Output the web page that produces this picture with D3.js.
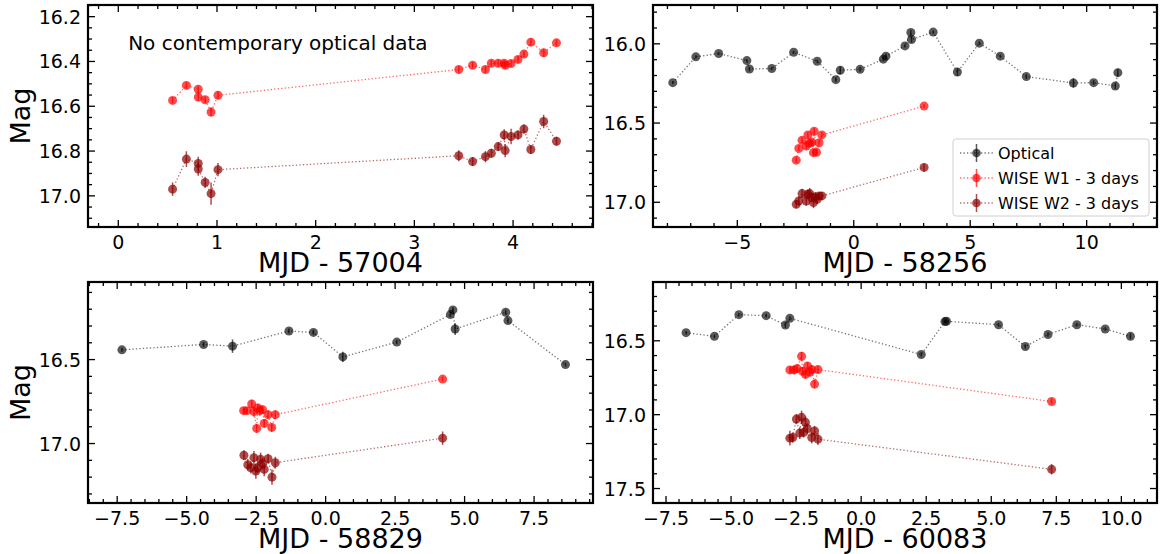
<!DOCTYPE html>
<html lang="en">
<head>
<meta charset="utf-8">
<title>WISE light curves</title>
<style>
  body { margin: 0; background: #fff; }
  svg { font-family: "DejaVu Sans", sans-serif; }
  .tick-label { font-size: 19px; fill: #000; }
  .axis-title { font-size: 27px; fill: #000; }
</style>
</head>
<body>
<div id="wrapper"></div>
<script src="https://cdn.jsdelivr.net/npm/d3@7"></script>
<script>
// ---- data: MJD offsets, magnitudes, errors ----
// panel 1: MJD - 57004
const p1W1t = [0.55, 0.69, 0.81, 0.81, 0.88, 0.94, 1.01, 3.45, 3.59, 3.72, 3.78, 3.85, 3.91, 3.92, 3.98, 4.05, 4.11, 4.18, 4.31, 4.44]
const p1W1m = [16.574, 16.507, 16.524, 16.559, 16.571, 16.626, 16.551, 16.436, 16.417, 16.436, 16.408, 16.408, 16.408, 16.417, 16.409, 16.391, 16.367, 16.314, 16.361, 16.317]
const p1W1e = [0.015, 0.015, 0.016, 0.018, 0.015, 0.02, 0.018, 0.016, 0.015, 0.016, 0.015, 0.016, 0.015, 0.016, 0.015, 0.015, 0.015, 0.016, 0.018, 0.015]
const p1W2t = p1W1t
const p1W2m = [16.970, 16.836, 16.855, 16.880, 16.940, 16.990, 16.883, 16.821, 16.847, 16.825, 16.810, 16.780, 16.728, 16.798, 16.735, 16.728, 16.702, 16.793, 16.668, 16.756]
const p1W2e = [0.03, 0.035, 0.03, 0.03, 0.025, 0.05, 0.03, 0.025, 0.02, 0.025, 0.02, 0.02, 0.025, 0.03, 0.035, 0.02, 0.02, 0.02, 0.03, 0.02]

// panel 2: MJD - 58256
const p2Ot = [-7.77, -6.78, -5.80, -4.59, -4.48, -3.52, -2.58, -1.57, -0.77, -0.58, 0.27, 1.27, 1.38, 2.20, 2.45, 2.48, 3.41, 4.45, 5.39, 6.29, 7.41, 9.43, 10.30, 11.23, 11.34]
const p2Om = [16.245, 16.082, 16.061, 16.106, 16.159, 16.156, 16.053, 16.110, 16.226, 16.167, 16.161, 16.097, 16.078, 16.013, 15.928, 15.973, 15.926, 16.178, 15.996, 16.078, 16.207, 16.247, 16.245, 16.266, 16.182]
const p2Oe = [0.01, 0.01, 0.01, 0.01, 0.015, 0.01, 0.01, 0.01, 0.015, 0.025, 0.015, 0.015, 0.015, 0.01, 0.015, 0.02, 0.01, 0.025, 0.01, 0.01, 0.015, 0.03, 0.015, 0.02, 0.025]
const p2W1t = [-2.47, -2.36, -2.22, -2.04, -1.97, -1.89, -1.81, -1.73, -1.70, -1.60, -1.49, -1.37, 3.02]
const p2W1m = [16.734, 16.660, 16.609, 16.645, 16.575, 16.628, 16.620, 16.687, 16.552, 16.685, 16.624, 16.575, 16.393]
const p2W1e = [0.018, 0.018, 0.02, 0.02, 0.018, 0.02, 0.018, 0.02, 0.02, 0.02, 0.018, 0.018, 0.012]
const p2W2t = [-2.47, -2.36, -2.22, -2.04, -1.97, -1.89, -1.81, -1.73, -1.65, -1.57, -1.49, -1.37, 3.02]
const p2W2m = [17.013, 16.992, 16.945, 16.992, 16.949, 16.945, 16.970, 17.002, 16.966, 16.981, 16.960, 16.960, 16.780]
const p2W2e = [0.025, 0.03, 0.03, 0.03, 0.03, 0.035, 0.03, 0.035, 0.03, 0.03, 0.025, 0.025, 0.025]

// panel 3: MJD - 58829
const p3Ot = [-7.33, -4.39, -3.35, -1.32, -0.44, 0.62, 2.56, 4.49, 4.58, 4.66, 6.48, 6.56, 8.63]
const p3Om = [16.442, 16.410, 16.420, 16.330, 16.338, 16.484, 16.396, 16.232, 16.204, 16.318, 16.218, 16.268, 16.530]
const p3Oe = [0.012, 0.015, 0.04, 0.015, 0.015, 0.03, 0.012, 0.015, 0.015, 0.035, 0.015, 0.015, 0.012]
const p3W1t = [-2.95, -2.83, -2.66, -2.58, -2.48, -2.44, -2.37, -2.27, -2.21, -2.07, -1.94, -1.81, 4.21]
const p3W1m = [16.804, 16.804, 16.764, 16.810, 16.910, 16.788, 16.804, 16.798, 16.880, 16.828, 16.904, 16.828, 16.616]
const p3W1e = [0.02, 0.02, 0.025, 0.03, 0.025, 0.025, 0.03, 0.025, 0.025, 0.025, 0.025, 0.025, 0.015]
const p3W2t = [-2.94, -2.80, -2.69, -2.58, -2.51, -2.45, -2.34, -2.27, -2.21, -2.07, -1.93, -1.81, 4.21]
const p3W2m = [17.070, 17.126, 17.144, 17.084, 17.164, 17.144, 17.094, 17.120, 17.154, 17.090, 17.200, 17.114, 16.968]
const p3W2e = [0.03, 0.035, 0.035, 0.04, 0.045, 0.035, 0.04, 0.035, 0.04, 0.03, 0.045, 0.035, 0.04]

// panel 4: MJD - 60083
const p4Ot = [-6.73, -5.64, -4.70, -3.65, -2.91, -2.74, 2.31, 3.22, 3.28, 5.28, 6.31, 7.18, 8.29, 9.38, 10.35]
const p4Om = [16.445, 16.470, 16.323, 16.330, 16.393, 16.348, 16.593, 16.370, 16.368, 16.391, 16.539, 16.457, 16.391, 16.420, 16.470]
const p4Oe = [0.012, 0.012, 0.012, 0.012, 0.02, 0.015, 0.015, 0.012, 0.012, 0.012, 0.015, 0.015, 0.012, 0.012, 0.02]
const p4W1t = [-2.74, -2.58, -2.46, -2.29, -2.25, -2.14, -2.06, -1.97, -1.89, -1.79, -1.66, 7.32]
const p4W1m = [16.697, 16.697, 16.688, 16.605, 16.706, 16.727, 16.670, 16.711, 16.695, 16.793, 16.695, 16.911]
const p4W1e = [0.025, 0.03, 0.025, 0.03, 0.025, 0.03, 0.025, 0.03, 0.025, 0.03, 0.025, 0.02]
const p4W2t = [-2.74, -2.63, -2.49, -2.36, -2.29, -2.21, -2.14, -2.07, -1.90, -1.79, -1.66, 7.32]
const p4W2m = [17.159, 17.155, 17.030, 17.125, 17.018, 17.120, 17.052, 17.093, 17.155, 17.111, 17.166, 17.370]
const p4W2e = [0.05, 0.035, 0.035, 0.04, 0.045, 0.035, 0.04, 0.035, 0.04, 0.035, 0.04, 0.035]

const xTitles = ["MJD - 57004", "MJD - 58256", "MJD - 58829", "MJD - 60083"]
const legendLabels = ["Optical", "WISE W1 - 3 days", "WISE W2 - 3 days"]

const colOptical = "#000000"
const colW1 = "#ff0000"
const colW2 = "#8b0000"

function zipSeries(t, m, e) {
  return t.map((d, i) => ({ t: d, m: m[i], e: e[i] }))
}

const panels = [
  { box: [88, 5, 593, 227], xd: [-0.307, 4.81], yd: [16.148, 17.139],
    xMajor: 1, xMinor: 0.2, yMajor: 0.2, yMinor: 0.05, fmtX: d3.format("d"), fmtY: d3.format(".1f"),
    optical: null, w1: zipSeries(p1W1t, p1W1m, p1W1e), w2: zipSeries(p1W2t, p1W2m, p1W2e) },
  { box: [653, 5, 1157, 227], xd: [-8.62, 13.02], yd: [15.755, 17.156],
    xMajor: 5, xMinor: 1, yMajor: 0.5, yMinor: 0.1, fmtX: d3.format("d"), fmtY: d3.format(".1f"),
    optical: zipSeries(p2Ot, p2Om, p2Oe), w1: zipSeries(p2W1t, p2W1m, p2W1e), w2: zipSeries(p2W2t, p2W2m, p2W2e) },
  { box: [88, 282, 593, 503], xd: [-8.55, 9.62], yd: [16.038, 17.354],
    xMajor: 2.5, xMinor: 0.5, yMajor: 0.5, yMinor: 0.1, fmtX: d3.format(".1f"), fmtY: d3.format(".1f"),
    optical: zipSeries(p3Ot, p3Om, p3Oe), w1: zipSeries(p3W1t, p3W1m, p3W1e), w2: zipSeries(p3W2t, p3W2m, p3W2e) },
  { box: [653, 282, 1157, 503], xd: [-8.0, 11.37], yd: [16.102, 17.598],
    xMajor: 2.5, xMinor: 0.5, yMajor: 0.5, yMinor: 0.1, fmtX: d3.format(".1f"), fmtY: d3.format(".1f"),
    optical: zipSeries(p4Ot, p4Om, p4Oe), w1: zipSeries(p4W1t, p4W1m, p4W1e), w2: zipSeries(p4W2t, p4W2m, p4W2e) }
]

const svg = d3.select("#wrapper").append("svg")
  .attr("width", 1164)
  .attr("height", 554)

function ticksBetween(lo, hi, step) {
  const out = []
  const start = Math.ceil(lo / step - 1e-9)
  for (let k = start; k * step <= hi + 1e-9; k++) out.push(+(k * step).toFixed(6))
  return out
}

function minus(s) { return s.replace("-", "\u2212") }

function drawSeries(g, x, y, data, color, alpha) {
  if (!data) return
  const line = d3.line().x(d => x(d.t)).y(d => y(d.m))
  g.append("path")
    .datum(data)
    .attr("d", line)
    .attr("fill", "none")
    .attr("stroke", color)
    .attr("stroke-opacity", alpha * 0.85)
    .attr("stroke-width", 1.3)
    .attr("stroke-dasharray", "1.3,2.2")
  g.selectAll(null).data(data).join("line")
    .attr("x1", d => x(d.t)).attr("x2", d => x(d.t))
    .attr("y1", d => y(d.m - d.e)).attr("y2", d => y(d.m + d.e))
    .attr("stroke", color)
    .attr("stroke-opacity", alpha)
    .attr("stroke-width", 1.5)
  g.selectAll(null).data(data).join("circle")
    .attr("cx", d => x(d.t)).attr("cy", d => y(d.m))
    .attr("r", 4.5)
    .attr("fill", color)
    .attr("fill-opacity", alpha)
}

panels.forEach((p, i) => {
  const [x0, y0, x1, y1] = p.box
  const x = d3.scaleLinear().domain(p.xd).range([x0, x1])
  const y = d3.scaleLinear().domain(p.yd).range([y0, y1])

  const clipId = "clip" + i
  svg.append("clipPath").attr("id", clipId)
    .append("rect").attr("x", x0).attr("y", y0).attr("width", x1 - x0).attr("height", y1 - y0)

  const plot = svg.append("g").attr("clip-path", `url(#${clipId})`)
  drawSeries(plot, x, y, p.optical, colOptical, 0.65)
  drawSeries(plot, x, y, p.w1, colW1, 0.7)
  drawSeries(plot, x, y, p.w2, colW2, 0.7)

  const axes = svg.append("g").attr("stroke", "#000")
  const xMaj = ticksBetween(p.xd[0], p.xd[1], p.xMajor)
  const xMin = ticksBetween(p.xd[0], p.xd[1], p.xMinor)
  const yMaj = ticksBetween(p.yd[0], p.yd[1], p.yMajor)
  const yMin = ticksBetween(p.yd[0], p.yd[1], p.yMinor)

  // inward ticks on all four sides
  xMin.forEach(v => {
    const L = xMaj.some(m => Math.abs(m - v) < 1e-6) ? 7 : 4
    axes.append("line").attr("x1", x(v)).attr("x2", x(v)).attr("y1", y1).attr("y2", y1 - L).attr("stroke-width", 1.3)
    axes.append("line").attr("x1", x(v)).attr("x2", x(v)).attr("y1", y0).attr("y2", y0 + L).attr("stroke-width", 1.3)
  })
  yMin.forEach(v => {
    const L = yMaj.some(m => Math.abs(m - v) < 1e-6) ? 7 : 4
    axes.append("line").attr("y1", y(v)).attr("y2", y(v)).attr("x1", x0).attr("x2", x0 + L).attr("stroke-width", 1.3)
    axes.append("line").attr("y1", y(v)).attr("y2", y(v)).attr("x1", x1).attr("x2", x1 - L).attr("stroke-width", 1.3)
  })
  axes.append("rect")
    .attr("x", x0).attr("y", y0).attr("width", x1 - x0).attr("height", y1 - y0)
    .attr("fill", "none").attr("stroke-width", 2.2)

  svg.append("g").selectAll("text").data(xMaj).join("text")
    .attr("class", "tick-label")
    .attr("x", d => x(d)).attr("y", y1 + 22)
    .attr("text-anchor", "middle")
    .text(d => minus(p.fmtX(d)))
  svg.append("g").selectAll("text").data(yMaj).join("text")
    .attr("class", "tick-label")
    .attr("x", x0 - 7).attr("y", d => y(d) + 7)
    .attr("text-anchor", "end")
    .text(d => p.fmtY(d))

  svg.append("text").attr("class", "axis-title")
    .attr("x", (x0 + x1) / 2).attr("y", y1 + 45)
    .attr("text-anchor", "middle")
    .text(xTitles[i])

  if (i % 2 === 0) {
    svg.append("text").attr("class", "axis-title")
      .attr("transform", `translate(30,${(y0 + y1) / 2}) rotate(-90)`)
      .attr("text-anchor", "middle")
      .text("Mag")
  }

  if (i === 0) {
    svg.append("text")
      .attr("x", x(0.1)).attr("y", y(16.347))
      .style("font-size", "20px")
      .text("No contemporary optical data")
  }

  if (i === 1) {
    const lg = svg.append("g").attr("transform", "translate(953,139)")
    lg.append("rect").attr("width", 196).attr("height", 77).attr("rx", 3)
      .attr("fill", "#fff").attr("fill-opacity", 0.8).attr("stroke", "#d0d0d0")
    const cols = [[colOptical, 0.65], [colW1, 0.7], [colW2, 0.7]]
    legendLabels.forEach((lab, k) => {
      const yy = 14 + k * 25
      const [c, a] = cols[k]
      lg.append("line").attr("x1", 7).attr("x2", 40).attr("y1", yy).attr("y2", yy)
        .attr("stroke", c).attr("stroke-opacity", a * 0.85).attr("stroke-width", 1.3).attr("stroke-dasharray", "1.3,2.2")
      lg.append("line").attr("x1", 23.5).attr("x2", 23.5).attr("y1", yy - 9).attr("y2", yy + 9)
        .attr("stroke", c).attr("stroke-opacity", a).attr("stroke-width", 1.5)
      lg.append("circle").attr("cx", 23.5).attr("cy", yy).attr("r", 4.3).attr("fill", c).attr("fill-opacity", a)
      lg.append("text").attr("x", 45).attr("y", yy + 6).style("font-size", "16px").text(lab)
    })
  }
})
</script>
</body>
</html>
